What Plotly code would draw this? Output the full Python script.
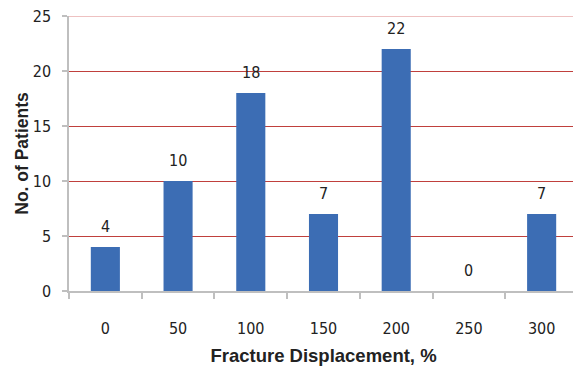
import plotly.graph_objects as go

categories = ["0", "50", "100", "150", "200", "250", "300"]
patients = [4, 10, 18, 7, 22, 0, 7]
y_ticks = [0, 5, 10, 15, 20, 25]

BAR = "#3c6db4"
GRID = "#c0403d"
TOPGRID = "#e8adad"
AXIS = "#bfbfbf"
TICKFONT = dict(family="Liberation Sans Narrow, DejaVu Sans Condensed, Arial Narrow, sans-serif", size=16, color="#222222")
XTITLEFONT = dict(family="Arial, Liberation Sans, sans-serif", size=18.5, color="#222222")
YTITLEFONT = dict(family="Arial, Liberation Sans, sans-serif", size=17.5, color="#222222")

fig = go.Figure()
fig.add_trace(go.Bar(
    x=categories, y=patients,
    marker=dict(color=BAR, line=dict(width=0)),
    width=0.4,
    showlegend=False,
))

for i, v in enumerate(patients):
    fig.add_annotation(x=i, y=v, text=str(v), showarrow=False,
                       yanchor="bottom", yshift=9, font=TICKFONT)

# top gridline at the upper limit of the value axis
fig.add_shape(type="line", xref="paper", x0=0, x1=1, yref="y", y0=y_ticks[-1], y1=y_ticks[-1],
              line=dict(color=TOPGRID, width=1.5), layer="below")

# page body adds an 8px offset, so the figure is sized to compensate
fig.update_layout(
    width=573, height=358,
    margin=dict(l=61, r=3, t=8, b=75),
    paper_bgcolor="white", plot_bgcolor="white",
)
fig.update_xaxes(
    type="category", range=[-0.5, len(categories) - 0.5], automargin=False,
    showline=True, linecolor=AXIS, linewidth=1.5,
    ticks="outside", tickson="boundaries", ticklen=6, tickcolor=AXIS, tickwidth=1.5,
    tickfont=TICKFONT, ticklabelstandoff=22, tickangle=0,
    showgrid=False,
    title=dict(text="<b>Fracture Displacement, %</b>", font=XTITLEFONT, standoff=17),
)
fig.update_yaxes(
    range=[0, 25], tickvals=y_ticks, automargin=False,
    showline=True, linecolor=AXIS, linewidth=1.5,
    ticks="outside", ticklen=5, tickcolor=AXIS, tickwidth=1.5,
    tickfont=TICKFONT, ticklabelstandoff=8, ticklabeloverflow="allow",
    showgrid=True, gridcolor=GRID, gridwidth=1.2,
    zeroline=False,
    title=dict(text="<b>No. of Patients</b>", font=YTITLEFONT, standoff=0),
)

fig.write_html("out.html")
